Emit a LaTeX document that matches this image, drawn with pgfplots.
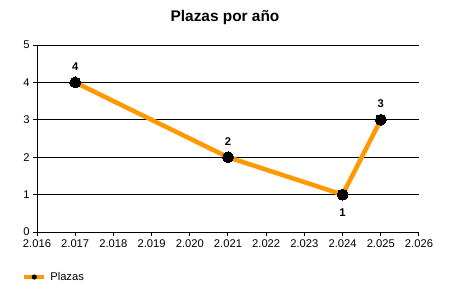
\documentclass[border=0pt]{standalone}
\usepackage{pgfplots}
\pgfplotsset{compat=1.18}
\usepackage{pgfplotstable}
\usepackage{fontspec}
\setmainfont{Liberation Sans}
\definecolor{lineorange}{RGB}{255,153,0}
\pgfplotstableread{
x y dy
2017 4 16
2021 2 16
2024 1 -18
2025 3 16
}\plazas
\begin{document}
\begin{tikzpicture}[x=1bp,y=1bp]
\begin{axis}[
  width=382bp, height=187bp, scale only axis,
  xmin=2016, xmax=2026, ymin=0, ymax=5,
  xtick={2016,2017,...,2026}, ytick={0,1,...,5},
  scaled x ticks=false,
  axis lines=left,
  axis line style={-, black, line width=1bp},
  tick align=outside, major tick length=4bp,
  tick style={black, line width=1bp},
  ymajorgrids, grid style={black, line width=1bp},
  /pgf/number format/assume math mode=true,
  xticklabel style={/pgf/number format/.cd, fixed, 1000 sep={.}},
  yticklabel style={/pgf/number format/.cd, fixed},
  every tick label/.append style={font=\fontsize{11.2bp}{13bp}\selectfont, text=black},
  clip=false,
  legend entries={Plazas},
  legend image code/.code={
    \draw[lineorange, line width=4bp] (0bp,0bp) -- (20bp,0bp);
    \path[fill=black, draw=none] (10bp,0bp) circle[radius=2.6bp];
  },
  legend style={draw=none, fill=none, at={(-0.039,-0.241)}, anchor=west,
    inner xsep=0pt, inner ysep=0pt,
    font=\fontsize{11.2bp}{13bp}\selectfont,
    /tikz/every odd column/.append style={column sep=2bp}},
]
\addplot[lineorange, line width=4.5bp, mark=*, mark size=5.5bp,
  mark options={black, fill=black, line width=0pt},
  visualization depends on={\thisrow{dy} \as \dy},
  nodes near coords={\pgfmathprintnumber[fixed]{\pgfplotspointmeta}},
  point meta=y,
  nodes near coords style={anchor=center, yshift=\dy pt, inner sep=0pt,
    font=\bfseries\fontsize{11.2bp}{13bp}\selectfont, text=black}]
  table[x=x, y=y] {\plazas};
\end{axis}
\node[font=\bfseries\fontsize{15.4bp}{18bp}\selectfont] at (188,214) {Plazas por año};
\path[use as bounding box] (-37,-68) rectangle (413,232);
\end{tikzpicture}
\end{document}
